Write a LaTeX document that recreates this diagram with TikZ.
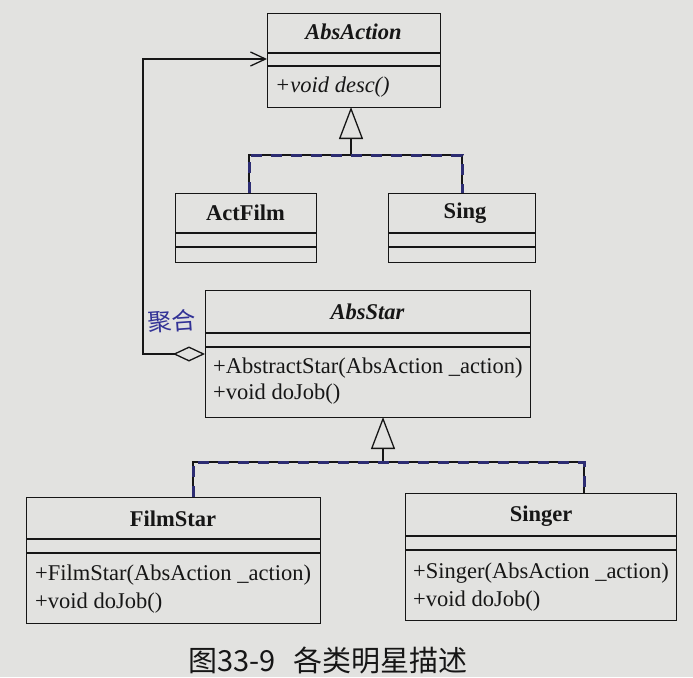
\documentclass[tikz,border=0pt]{standalone}
\usepackage{fontspec}
\setmainfont{Liberation Serif}
\newfontfamily\cjk{Noto Sans CJK SC}
\usetikzlibrary{arrows.meta,calc}
\definecolor{bg}{RGB}{226,226,224}
\definecolor{ink}{RGB}{22,22,22}
\definecolor{pen}{RGB}{45,45,115}
\definecolor{notepen}{RGB}{50,50,150}
\begin{document}
\begin{tikzpicture}[x=1pt,y=-1pt,
  cls/.style={draw=ink, line width=1.3pt, inner sep=0pt, anchor=north west},
  divider/.style={draw=ink, line width=1.3pt},
  ctitle/.style={font=\fontsize{22.5}{26}\selectfont\bfseries, text=ink, inner sep=0pt},
  atitle/.style={font=\fontsize{22.5}{26}\selectfont\bfseries\itshape, text=ink, inner sep=0pt},
  meth/.style={font=\fontsize{22.5}{26}\selectfont, text=ink, inner sep=0pt, anchor=west},
  conn/.style={draw=ink, line width=1.3pt},
  handdash/.style={draw=pen, line width=3pt, dash pattern=on 11pt off 9pt},
  gentip/.style={-{Triangle[open, length=32pt, width=24pt, fill=bg, line width=1.3pt]}}]
\fill[bg] (0,0) rectangle (693,677);
\useasboundingbox (0,0) rectangle (693,677);

% AbsAction
\node[cls, minimum width=173pt, minimum height=94pt] (absaction) at (267,13) {};
\draw[divider] (absaction.west |- 0,53) -- (absaction.east |- 0,53);
\draw[divider] (absaction.west |- 0,66) -- (absaction.east |- 0,66);
\node[atitle] (absactionT) at (353.5,32) {AbsAction};
\node[meth] (absactionM) at (275,87) {\itshape +void desc()};

% ActFilm
\node[cls, minimum width=141pt, minimum height=69pt] (actfilm) at (175,193) {};
\draw[divider] (actfilm.west |- 0,233) -- (actfilm.east |- 0,233);
\draw[divider] (actfilm.west |- 0,247) -- (actfilm.east |- 0,247);
\node[ctitle] (actfilmT) at (245.5,213) {ActFilm};

% Sing
\node[cls, minimum width=147pt, minimum height=69pt] (sing) at (388,193) {};
\draw[divider] (sing.west |- 0,233) -- (sing.east |- 0,233);
\draw[divider] (sing.west |- 0,247) -- (sing.east |- 0,247);
\node[ctitle] (singT) at (465,213) {Sing};

% AbsStar
\node[cls, minimum width=325pt, minimum height=127pt] (absstar) at (205,290) {};
\draw[divider] (absstar.west |- 0,333) -- (absstar.east |- 0,333);
\draw[divider] (absstar.west |- 0,347) -- (absstar.east |- 0,347);
\node[atitle] (absstarT) at (367.5,312) {AbsStar};
\node[meth] (absstarM1) at (213,368) {+AbstractStar(AbsAction \_action)};
\node[meth] (absstarM2) at (213,394) {+void doJob()};

% FilmStar
\node[cls, minimum width=294pt, minimum height=126pt] (filmstar) at (26,497) {};
\draw[divider] (filmstar.west |- 0,539) -- (filmstar.east |- 0,539);
\draw[divider] (filmstar.west |- 0,553) -- (filmstar.east |- 0,553);
\node[ctitle] (filmstarT) at (173,519) {FilmStar};
\node[meth] (filmstarM1) at (35,575) {+FilmStar(AbsAction \_action)};
\node[meth] (filmstarM2) at (35,603) {+void doJob()};

% Singer
\node[cls, minimum width=271pt, minimum height=127pt] (singer) at (405,493) {};
\draw[divider] (singer.west |- 0,536) -- (singer.east |- 0,536);
\draw[divider] (singer.west |- 0,550) -- (singer.east |- 0,550);
\node[ctitle] (singerT) at (541,516) {Singer};
\node[meth] (singerM1) at (413,573) {+Singer(AbsAction \_action)};
\node[meth] (singerM2) at (413,601) {+void doJob()};

% attachment points
\coordinate (afTop) at (249,193);
\coordinate (sgTop) at (462,193);
\coordinate (bus1) at (351,155);
\coordinate (aaBot) at (351,107);
\coordinate (fsTop) at (193,497);
\coordinate (siTop) at (584,493);
\coordinate (bus2) at (383,462);
\coordinate (asBot) at (383,417);
\coordinate (asLeft) at (205,354);
\coordinate (aaLeft) at (267,59);
\coordinate (bend) at (143,354);

% generalization ActFilm/Sing -> AbsAction
\draw[conn] (afTop) |- (bus1) -| (sgTop);
\draw[conn, gentip] (bus1) -- (aaBot);
\draw[handdash] (afTop) |- (bus1) -| (sgTop);

% generalization FilmStar/Singer -> AbsStar
\draw[conn] (fsTop) |- (bus2) -| (siTop);
\draw[conn, gentip] (bus2) -- (asBot);
\draw[handdash] (fsTop) |- (bus2) -| (siTop);

% aggregation AbsStar <>-> AbsAction
\draw[conn, {Diamond[open, length=32pt, width=15pt, fill=bg, line width=1.3pt]}-{Straight Barb[length=15pt, width=14pt, line width=1.3pt]}]
  (asLeft) -- (bend) |- (aaLeft);

% handwritten note
\node[font=\cjk\fontsize{24}{26}\selectfont, text=notepen, inner sep=0pt, rotate=4] (note) at (172,321) {聚合};

% caption
\node[font=\cjk\fontsize{29}{32}\selectfont, text=ink, inner sep=0pt] (caption) at (328,660) {图33-9\hspace{0.6em}各类明星描述};
\end{tikzpicture}
\end{document}
